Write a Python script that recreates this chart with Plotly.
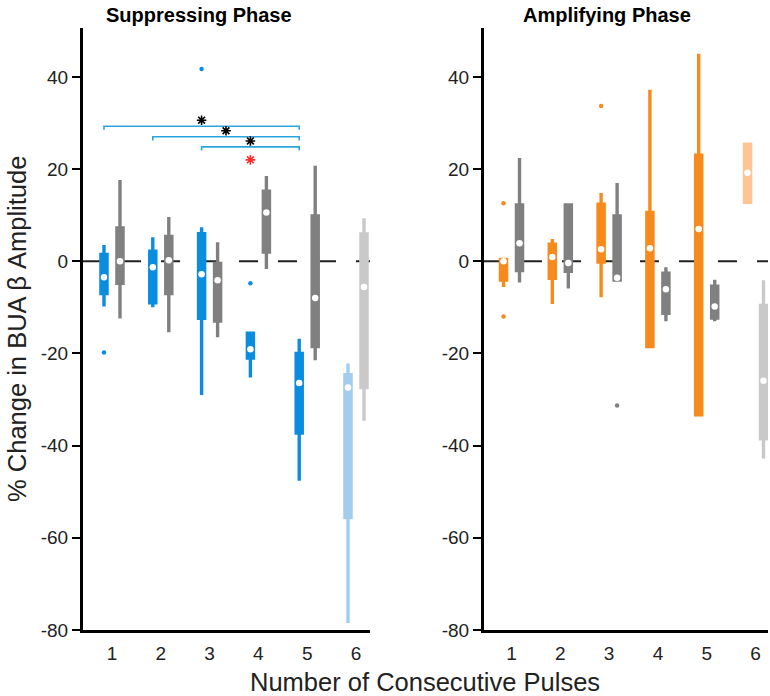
import plotly.graph_objects as go

# ---------------- data ----------------
pulses = [1, 2, 3, 4, 5, 6]
tick_labels = ["1", "2", "3", "4", "5", "6"]
y_ticks = [-80, -60, -40, -20, 0, 20, 40]
y_tick_labels = ["-80", "-60", "-40", "-20", "0", "20", "40"]

# Suppressing phase - stimulated (blue)
sup_stim_lo  = [-9.8, -10.0, -29.0, -25.2, -47.6, -78.5]
sup_stim_q1  = [-7.0, -9.0, -12.4, -21.0, -37.3, -55.6]
sup_stim_med = [-3.5, -1.3, -2.8, -19.1, -26.4, -27.4]
sup_stim_q3  = [1.5, 2.2, 6.0, -15.6, -20.0, -24.6]
sup_stim_hi  = [3.5, 5.2, 7.4, -15.6, -16.8, -22.2]
sup_stim_out_x = [1, 3, 4]
sup_stim_out_y = [-19.8, 41.7, -4.8]

# Suppressing phase - control (gray)
sup_ctrl_lo  = [-12.4, -15.4, -16.5, -1.7, -21.5, -34.6]
sup_ctrl_q1  = [-4.8, -7.0, -13.0, 2.0, -18.5, -27.4]
sup_ctrl_med = [0.0, 0.2, -4.1, 10.6, -8.0, -5.6]
sup_ctrl_q3  = [7.2, 5.4, -0.5, 15.2, 9.8, 5.9]
sup_ctrl_hi  = [17.6, 9.6, 4.1, 18.5, 20.7, 9.3]

# Amplifying phase - stimulated (orange)
amp_stim_lo  = [-5.6, -9.3, -7.8, -18.5, -33.3, 12.8]
amp_stim_q1  = [-4.1, -3.7, -0.2, -18.5, -33.3, 12.8]
amp_stim_med = [0.0, 0.9, 2.6, 2.8, 7.0, 19.2]
amp_stim_q3  = [0.4, 3.7, 12.4, 10.6, 23.0, 25.4]
amp_stim_hi  = [0.4, 4.8, 14.8, 37.2, 45.0, 25.4]
amp_stim_out_x = [1, 1, 3]
amp_stim_out_y = [12.6, -12.0, 33.7]

# Amplifying phase - control (gray)
amp_ctrl_lo  = [-4.6, -5.9, -4.1, -13.0, -13.0, -42.8]
amp_ctrl_q1  = [-2.0, -2.2, -4.1, -11.3, -12.3, -38.5]
amp_ctrl_med = [3.9, -0.4, -3.6, -6.1, -9.8, -25.9]
amp_ctrl_q3  = [12.2, 12.2, 9.8, -2.6, -5.4, -9.6]
amp_ctrl_hi  = [22.4, 12.2, 17.0, -1.3, -4.0, -4.1]
amp_ctrl_out_x = [3]
amp_ctrl_out_y = [-31.3]

# significance comparisons (suppressing phase, stimulated boxes)
sig_from = [1, 2, 3]
sig_to   = [5, 5, 5]
sig_y    = [29.3, 27.0, 24.8]
red_star_x = [4]
red_star_y = [22.0]

# ---------------- style ----------------
BLUE, LBLUE = "#0a8de0", "#a2cdee"
ORANGE, LORANGE = "#f78a1d", "#fcc591"
GRAY, LGRAY = "#808080", "#c9c9c9"
BRACKET = "#2ba6dc"
OFF = 0.164
BOXW = 0.125
LW = 3.4
FONT = "Liberation Sans, Arial, Helvetica, sans-serif"

fig = go.Figure()


def add_boxes(xa, ya, offset, lo, q1, med, q3, hi, colors):
    xs = [p + offset for p in pulses]
    for i in range(len(pulses)):
        fig.add_trace(go.Box(
            x=[xs[i]], q1=[q1[i]], median=[med[i]], q3=[q3[i]],
            lowerfence=[lo[i]], upperfence=[hi[i]],
            width=BOXW, whiskerwidth=0,
            line=dict(color=colors[i], width=LW), fillcolor=colors[i],
            xaxis=xa, yaxis=ya, showlegend=False, hoverinfo="skip",
        ))
    fig.add_trace(go.Scatter(
        x=xs, y=med, mode="markers", xaxis=xa, yaxis=ya,
        marker=dict(color="white", size=6.5, line=dict(width=0)),
        showlegend=False, hoverinfo="skip",
    ))


def add_outliers(xa, ya, offset, ox, oy, color):
    fig.add_trace(go.Scatter(
        x=[p + offset for p in ox], y=oy, mode="markers", xaxis=xa, yaxis=ya,
        marker=dict(color=color, size=4.5, line=dict(width=0)),
        showlegend=False, hoverinfo="skip",
    ))


add_boxes("x", "y", -OFF, sup_stim_lo, sup_stim_q1, sup_stim_med, sup_stim_q3, sup_stim_hi,
          [BLUE] * 5 + [LBLUE])
add_boxes("x", "y", OFF, sup_ctrl_lo, sup_ctrl_q1, sup_ctrl_med, sup_ctrl_q3, sup_ctrl_hi,
          [GRAY] * 5 + [LGRAY])
add_outliers("x", "y", -OFF, sup_stim_out_x, sup_stim_out_y, BLUE)

add_boxes("x2", "y2", -OFF, amp_stim_lo, amp_stim_q1, amp_stim_med, amp_stim_q3, amp_stim_hi,
          [ORANGE] * 5 + [LORANGE])
add_boxes("x2", "y2", OFF, amp_ctrl_lo, amp_ctrl_q1, amp_ctrl_med, amp_ctrl_q3, amp_ctrl_hi,
          [GRAY] * 5 + [LGRAY])
add_outliers("x2", "y2", -OFF, amp_stim_out_x, amp_stim_out_y, ORANGE)
add_outliers("x2", "y2", OFF, amp_ctrl_out_x, amp_ctrl_out_y, GRAY)

# significance brackets
for a, b, yv in zip(sig_from, sig_to, sig_y):
    xa_, xb_ = a - OFF, b - OFF
    fig.add_trace(go.Scatter(
        x=[xa_, xa_, xb_, xb_], y=[yv - 0.8, yv, yv, yv - 0.8], mode="lines",
        line=dict(color=BRACKET, width=1.6), showlegend=False, hoverinfo="skip",
    ))
    fig.add_trace(go.Scatter(
        x=[(xa_ + xb_) / 2], y=[yv + 1.3], mode="markers",
        marker=dict(symbol="asterisk-open", size=8, color="black", line=dict(width=1.6, color="black")),
        showlegend=False, hoverinfo="skip",
    ))
fig.add_trace(go.Scatter(
    x=[p - OFF for p in red_star_x], y=red_star_y, mode="markers",
    marker=dict(symbol="asterisk-open", size=8, color="#ff2a2a", line=dict(width=1.6, color="#ff2a2a")),
    showlegend=False, hoverinfo="skip",
))

# zero reference lines
for xr, yr in (("x domain", "y"), ("x2 domain", "y2")):
    fig.add_shape(type="line", xref=xr, yref=yr, x0=0, x1=1, y0=0, y1=0,
                  line=dict(color="#222222", width=2, dash="19px,20px"), layer="below")

axis_common = dict(showline=True, linecolor="black", linewidth=3, showgrid=False, zeroline=False,
                   automargin=False, tickfont=dict(family=FONT, size=19, color="#222222"))
xcommon = dict(axis_common, tickmode="array", tickvals=pulses, ticktext=tick_labels,
               ticks="outside", ticklen=4, tickcolor="rgba(0,0,0,0)")
ycommon = dict(axis_common, tickmode="array", tickvals=y_ticks, ticktext=y_tick_labels,
               ticks="outside", ticklen=8, tickwidth=2, tickcolor="black", range=[-80, 50.6])

fig.update_layout(
    width=770, height=696,
    margin=dict(l=83, r=2, t=28, b=66, autoexpand=False),
    paper_bgcolor="white", plot_bgcolor="white",
    xaxis=dict(xcommon, domain=[0, 0.419], range=[0.406, 6.287], anchor="y"),
    yaxis=dict(ycommon, anchor="x"),
    xaxis2=dict(xcommon, domain=[0.5854, 1], range=[0.436, 6.256], anchor="y2"),
    yaxis2=dict(ycommon, anchor="x2"),
    showlegend=False,
    font=dict(family=FONT, color="#222222"),
)

fig.add_annotation(text="<b>Suppressing Phase</b>", xref="paper", yref="paper",
                   x=0.1693, y=1.0216, xanchor="center", yanchor="middle", showarrow=False,
                   font=dict(family=FONT, size=20, color="black"))
fig.add_annotation(text="<b>Amplifying Phase</b>", xref="paper", yref="paper",
                   x=0.765, y=1.0216, xanchor="center", yanchor="middle", showarrow=False,
                   font=dict(family=FONT, size=20, color="black"))
fig.add_annotation(text="% Change in BUA β Amplitude", xref="paper", yref="paper",
                   x=-0.0964, y=0.5, xanchor="center", yanchor="middle", textangle=-90,
                   showarrow=False, font=dict(family=FONT, size=25.5, color="#222222"))
fig.add_annotation(text="Number of Consecutive Pulses", xref="paper", yref="paper",
                   x=0.499, y=-0.0864, xanchor="center", yanchor="middle",
                   showarrow=False, font=dict(family=FONT, size=25.5, color="#222222"))

fig.write_html(
    "out.html",
    config={"displayModeBar": False},
    post_script="document.body.style.margin='0';document.body.style.overflow='hidden';",
)
